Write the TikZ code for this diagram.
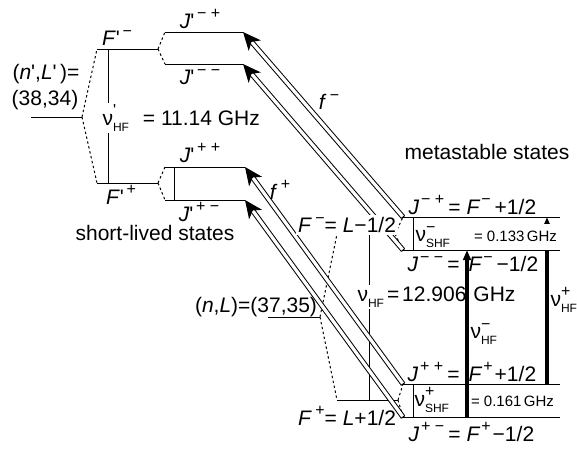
\documentclass[tikz,border=0pt]{standalone}
\usepackage{fontspec}
\setmainfont{Liberation Sans}
\usetikzlibrary{arrows.meta,calc}
% raised and lowered indices
\newcommand\up[1]{\raisebox{0.85ex}{\fontsize{8}{9}\selectfont #1}}
\newcommand\dn[1]{\raisebox{-0.55ex}{\fontsize{6}{7}\selectfont #1}}
\newcommand\nusd[2]{ν\makebox[0pt][l]{\up{#1}}\dn{#2}}
\newcommand\smtxt[1]{{\fontsize{7.5}{9}\selectfont #1}}
\newcommand\pr{\textquotesingle}
\begin{document}
\begin{tikzpicture}[x=0.5pt,y=-0.5pt,line width=0.5pt,
  every node/.style={font=\fontsize{10.5}{12}\selectfont,inner sep=0.5pt},
  link/.style={dash pattern=on 1.2pt off 1.3pt,line width=0.5pt},
  photon/.style={double,double distance=1.6pt,line width=0.5pt,
    -{Stealth[length=9pt,width=8pt,inset=2.5pt]}},
  hfarrow/.style={line width=1.6pt,-{Triangle[length=5pt,width=3.8pt]}},
  mask/.style={fill=white,inner sep=1pt}]
\useasboundingbox (0,0) rectangle (577,451);
% level end points
\coordinate (nLp-l) at (31,117);  \coordinate (nLp-r) at (82,117);
\coordinate (Fpm-l) at (97,49);   \coordinate (Fpm-r) at (158,49);
\coordinate (Fpp-l) at (97,183);  \coordinate (Fpp-r) at (158,183);
\coordinate (Jpmp-l) at (165,32); \coordinate (Jpmp-r) at (243,32);
\coordinate (Jpmm-l) at (165,64); \coordinate (Jpmm-r) at (243,64);
\coordinate (Jppp-l) at (165,167);\coordinate (Jppp-r) at (245,167);
\coordinate (Jppm-l) at (165,200);\coordinate (Jppm-r) at (245,200);
\coordinate (nL-l) at (268,317);  \coordinate (nL-r) at (320,317);
\coordinate (Fm-l) at (337,234);  \coordinate (Fm-r) at (395,234);
\coordinate (Fp-l) at (337,400);  \coordinate (Fp-r) at (398,400);
\coordinate (Jmp-l) at (403,217); \coordinate (Jmp-r) at (560,217);
\coordinate (Jmm-l) at (403,250); \coordinate (Jmm-r) at (560,250);
\coordinate (Jpp-l) at (403,384); \coordinate (Jpp-r) at (560,384);
\coordinate (Jpm-l) at (403,417); \coordinate (Jpm-r) at (560,417);
% levels
\foreach \lv in {nLp,Fpm,Fpp,Jpmp,Jpmm,Jppp,Jppm,nL,Fm,Fp,Jmp,Jmm,Jpp,Jpm}
  \draw (\lv-l) -- (\lv-r);
% splittings
\foreach \a/\b in {nLp-r/Fpm-l,nLp-r/Fpp-l,Fpm-r/Jpmp-l,Fpm-r/Jpmm-l,
  Fpp-r/Jppp-l,Fpp-r/Jppm-l,nL-r/Fm-l,nL-r/Fp-l,Fm-r/Jmp-l,Fm-r/Jmm-l,
  Fp-r/Jpp-l,Fp-r/Jpm-l}
  \draw[link] (\a) -- (\b);
\draw ([xshift=5.5pt]Fpm-l) -- ([xshift=5.5pt]Fpp-l);
\draw ([xshift=4.5pt]Jppp-l) -- ([xshift=4.5pt]Jppm-l);
\draw ([xshift=16pt]Fm-l) -- ([xshift=16pt]Fp-l);
\draw ([xshift=5pt]Jmp-l) -- ([xshift=5pt]Jmm-l);
\draw ([xshift=5pt]Jpp-l) -- ([xshift=5pt]Jpm-l);
% hyperfine transition F+ side
\draw[hfarrow] ([xshift=-6.5pt]Jpp-r) -- ([xshift=-6.5pt]Jmp-r);
% laser excitations
\foreach \lo/\hi in {Jmp/Jpmp,Jmm/Jpmm,Jpp/Jppp,Jpm/Jppm} {
  \draw[photon] (\lo-l) -- (\hi-r);
  \draw ($(\lo-l)!1.05pt!90:(\hi-r)$) -- ($(\lo-l)!1.05pt!-90:(\hi-r)$);
}
% labels
\node (nLp-lab) at (46,74) {(\textit{n}\pr,\textit{L}\pr\,)=};
\node (nLp-val) at (45,100) {(38,34)};
\node (Fpm-lab) at (117,38) {\textit{F}\pr\up{\,−}};
\node (Fpp-lab) at (121,195) {\textit{F}\pr\up{\,+}};
\node[mask,anchor=west] (nuHFp) at (100,118) {\nusd{\pr}{HF}\hspace{7pt}= 11.14 GHz};
\node (Jpmp-lab) at (200,19) {\textit{J}\pr\up{\,−\ +}};
\node (Jpmm-lab) at (200,77) {\textit{J}\pr\up{\,−\ −}};
\node (Jppp-lab) at (200,153) {\textit{J}\pr\up{\,+\ +}};
\node (Jppm-lab) at (199,212) {\textit{J}\pr\up{\,+\ −}};
\node (short) at (155,233) {short-lived states};
\node (meta) at (487,152) {metastable states};
\node (fm) at (329,102) {\textit{f}\,\up{−}};
\node (fp) at (280,190) {\textit{f}\,\up{+}};
\node (nL-lab) at (256,307) {(\textit{n},\textit{L})=(37,35)};
\node[mask] (Fm-lab) at (347,225) {\textit{F}\,\up{−}= \textit{L}−1/2};
\node[mask,anchor=west] (nuHF) at (355,297)
  {ν\dn{HF}\kern1.5pt=\kern1.5pt12.906\hspace{3.5pt}GHz};
\node (Fp-lab) at (347,416) {\textit{F}\,\up{+}= \textit{L}+1/2};
\node[anchor=west] (Jmp-lab) at (407,205)
  {\textit{J}\kern1pt\up{−\ +}\kern2pt=\kern3pt\textit{F}\kern0.5pt\up{−}\kern2pt+1/2};
\node[mask,anchor=west] (nuSHFm) at (413,237) {\nusd{−}{SHF}\hspace{12pt}\smtxt{= 0.133\,GHz}};
\node[anchor=west] (Jmm-lab) at (406,264)
  {\textit{J}\kern1pt\up{−\ −}\kern2pt=\kern4.5pt\textit{F}\kern0.5pt\up{−}\kern2pt−1/2};
\node[anchor=west] (Jpp-lab) at (406,372)
  {\textit{J}\kern1pt\up{+\ +}\kern2pt=\kern4.5pt\textit{F}\kern0.5pt\up{+}\kern1pt+1/2};
\node[anchor=west] (nuSHFp) at (413,400) {\nusd{+}{SHF}\hspace{11pt}\smtxt{= 0.161\,GHz}};
\node[anchor=west] (Jpm-lab) at (407,432)
  {\textit{J}\kern1pt\up{+\ −}\kern2pt=\kern3pt\textit{F}\kern0.5pt\up{+}\kern1pt−1/2};
\node[anchor=west] (nuHFm) at (469,334) {\nusd{−}{HF}};
\node[anchor=west] (nuHFpl) at (549,300) {\nusd{+}{HF}};
% hyperfine transition F- side
\draw[hfarrow] ([xshift=-46.5pt]Jpm-r) -- ([xshift=-46.5pt]Jmm-r);
\end{tikzpicture}
\end{document}
